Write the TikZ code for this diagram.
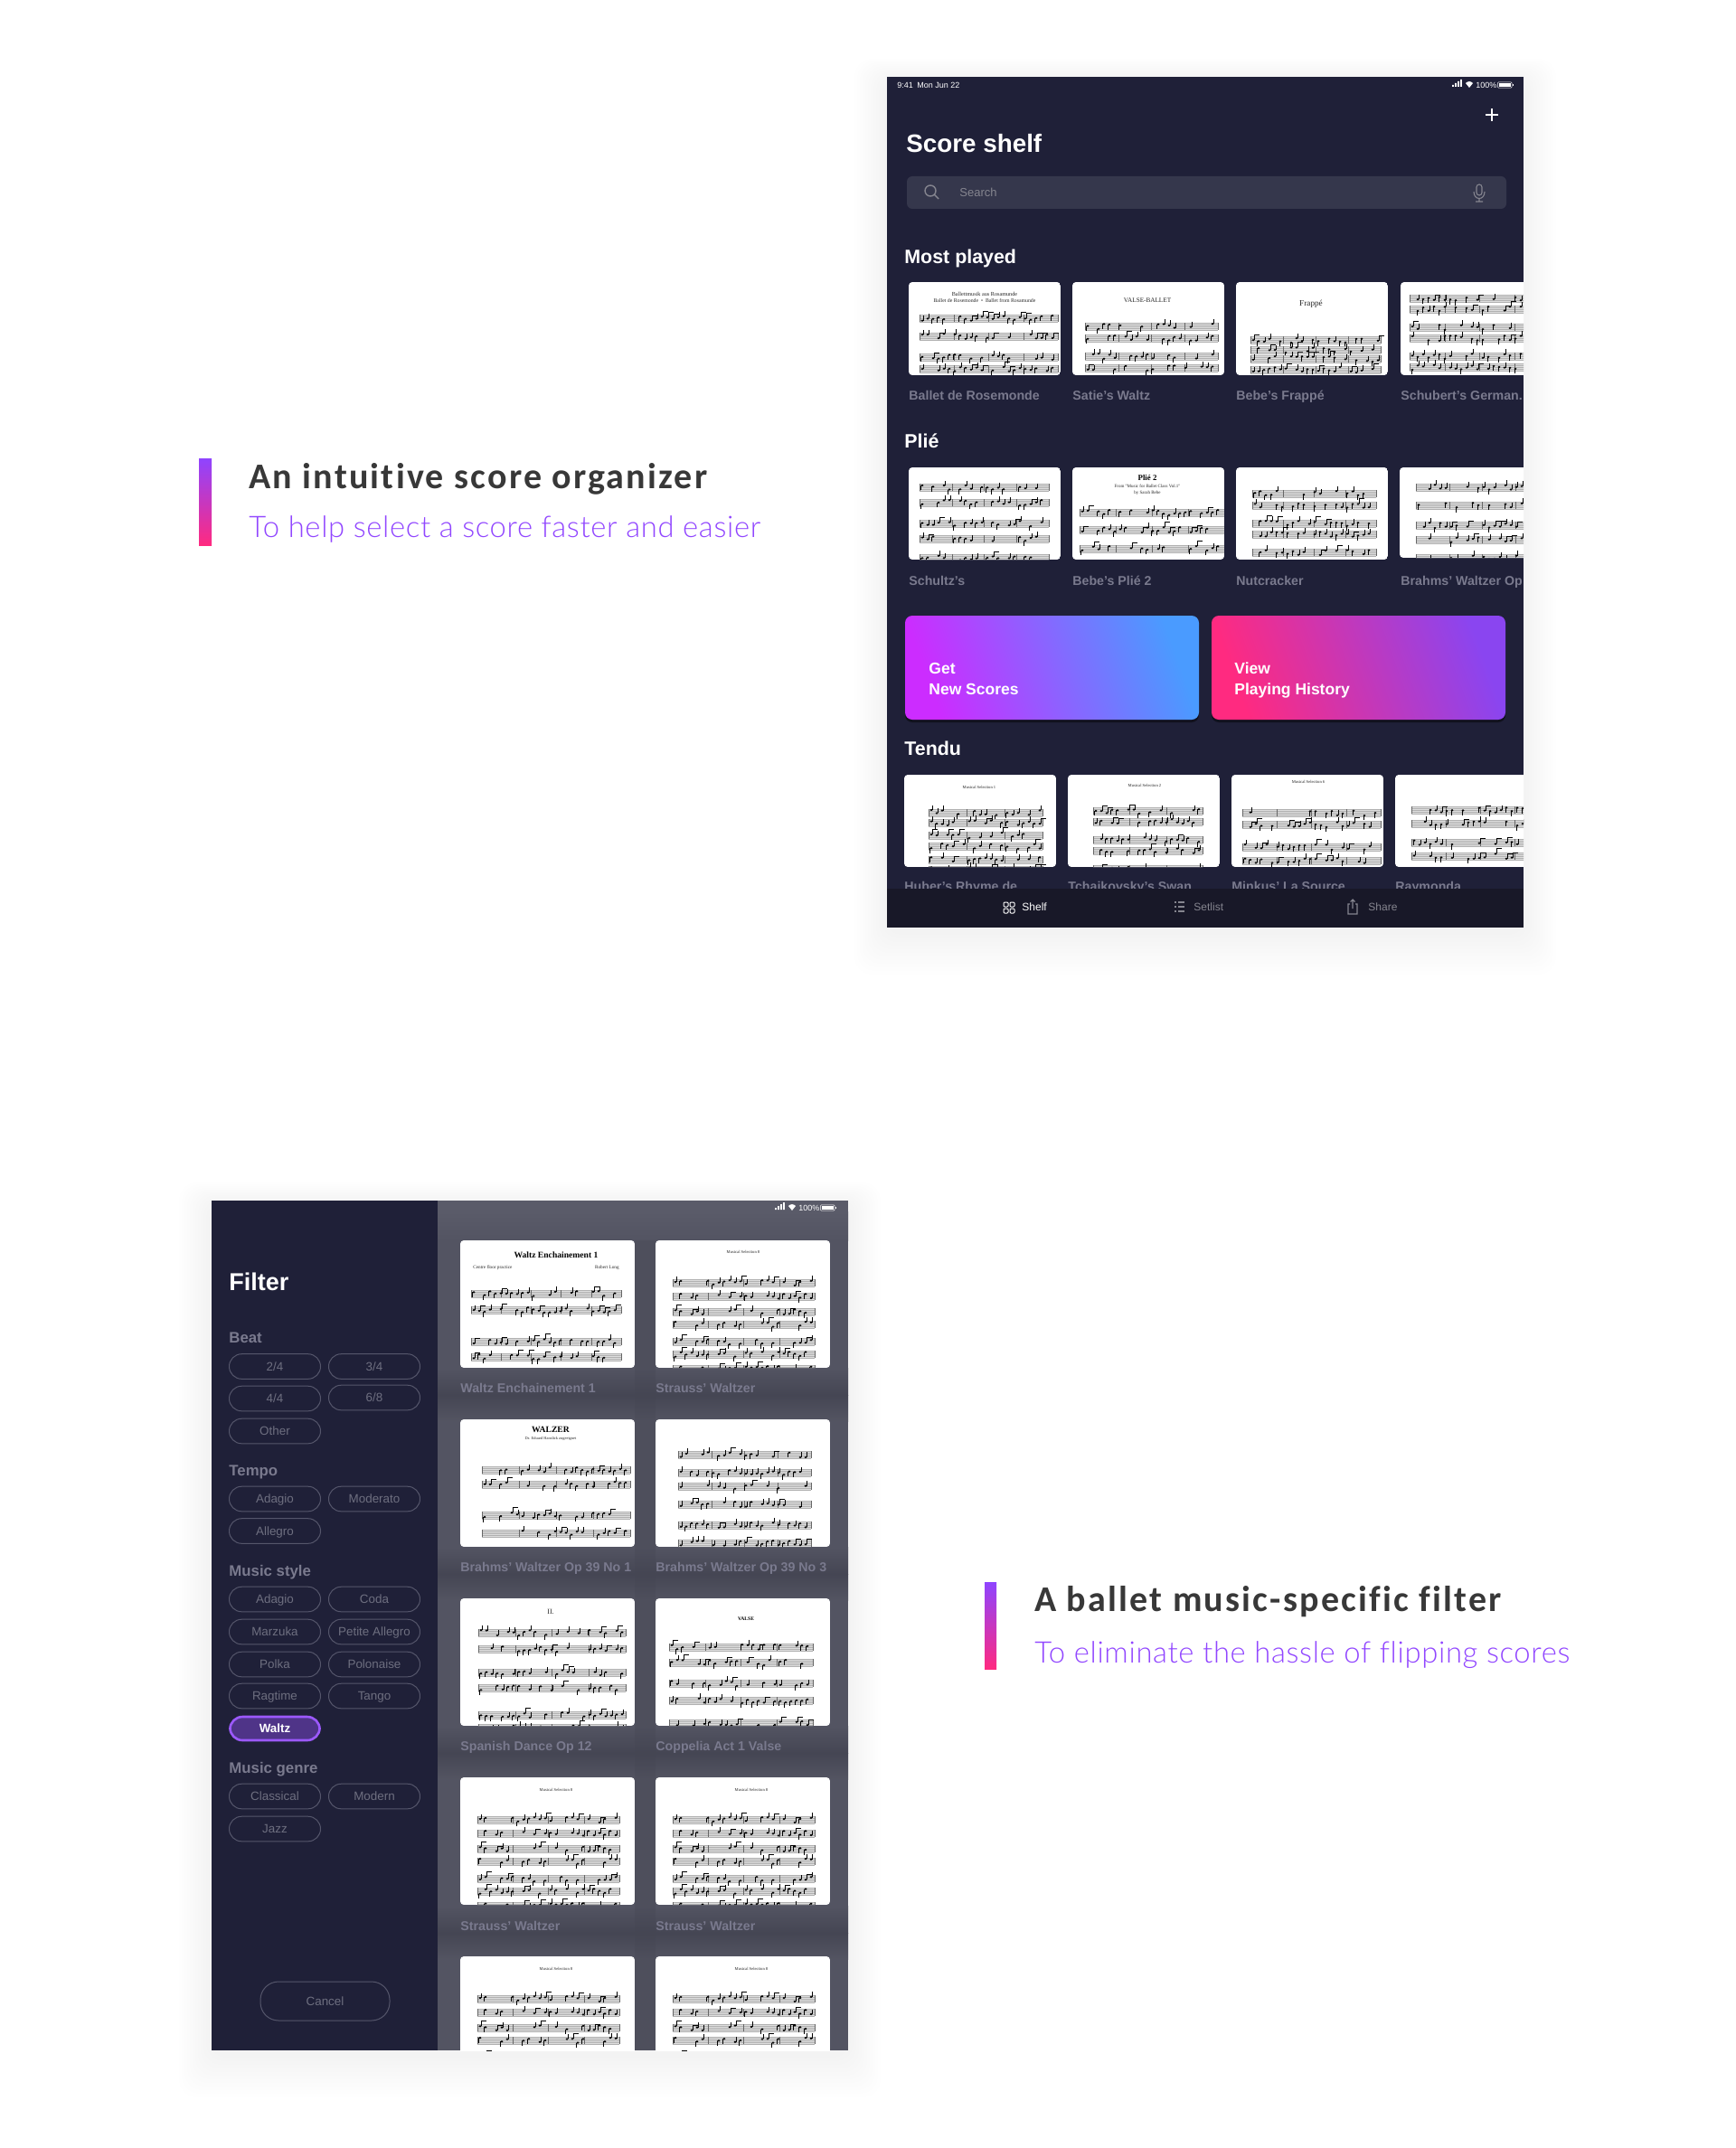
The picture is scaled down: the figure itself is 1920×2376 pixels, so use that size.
\documentclass[tikz,border=0pt]{standalone}
\usepackage{fontspec}
\setmainfont{Liberation Sans}
\newfontfamily\serf{Liberation Serif}
\newfontfamily\carlh[LetterSpace=5.6,Ligatures=NoCommon]{Carlito}
\newfontfamily\carls[LetterSpace=2,Ligatures=NoCommon]{Lato Light}
\definecolor{navy}{HTML}{1F2038}
\definecolor{tabbar}{HTML}{181828}
\definecolor{searchbg}{HTML}{35374C}
\definecolor{greytxt}{HTML}{7A7A8E}
\definecolor{pilltxt}{HTML}{6E6F80}
\definecolor{pillline}{HTML}{55566B}
\definecolor{contentbg}{HTML}{535462}
\definecolor{contentdk}{HTML}{454653}
\definecolor{HTMLlight}{HTML}{5A5B69}
\definecolor{headtxt}{HTML}{383838}
\definecolor{subtxt}{HTML}{9146FF}
\definecolor{staffbg}{HTML}{DEDEDE}
\definecolor{staffln}{HTML}{B0B0B0}
\definecolor{barpur}{HTML}{8F44FF}
\definecolor{barpink}{HTML}{FF2A80}
\definecolor{icongrey}{HTML}{85858F}
\definecolor{HTMLwaltz}{HTML}{4F3488}
\definecolor{HTMLg1}{HTML}{CC2CFF}
\definecolor{HTMLg2}{HTML}{4A9BFF}
\definecolor{HTMLg3}{HTML}{FF2A80}
\definecolor{HTMLg4}{HTML}{8A45F0}
\tikzset{
  x=0.5pt,y=-0.5pt,
  fs/.style={font=\fontsize{#1pt}{#1pt}\selectfont,text height=#1*0.72pt,text depth=0pt,inner sep=0pt},
  lft/.style={anchor=west},
  thumblabel/.style={lft,fs=7.1,text=greytxt,font=\fontsize{7.1pt}{7.1pt}\selectfont\bfseries},
  secthead/.style={lft,fs=10.7,text=white,font=\fontsize{10.7pt}{10.7pt}\selectfont\bfseries},
  sidehead/.style={lft,fs=8.4,text=greytxt,font=\fontsize{8.4pt}{8.4pt}\selectfont\bfseries},
  btntext/.style={lft,fs=8.75,text=white,font=\fontsize{8.75pt}{8.75pt}\selectfont\bfseries},
  pill/.style={draw=pillline,line width=0.5pt,rounded corners=6.9pt,fs=6.7,text=pilltxt,
     minimum width=50.5pt,minimum height=13.8pt},
  pillon/.style={pill,draw=subtxt!90!white,line width=1.3pt,fill=HTMLwaltz,text=white,
     minimum width=49.6pt,minimum height=13pt,
     font=\fontsize{6.7pt}{6.7pt}\selectfont\bfseries},
  tabtext/.style={lft,fs=6,text=icongrey},
  stat/.style={lft,fs=4.5,text=white},
  scoretxt/.style={fs=#1,text=black!85,font=\fontsize{#1pt}{#1pt}\selectfont\serf},
  scorebold/.style={fs=#1,text=black,font=\fontsize{#1pt}{#1pt}\selectfont\serf\bfseries},
  iconline/.style={draw=icongrey,line width=0.55pt},
}
% one staff with notes
\newcommand\onestaff[3]{%
  \pgfmathsetmacro\stA{#1}\pgfmathsetmacro\stB{#2}\pgfmathsetmacro\stY{#3}%
  \fill[staffbg] (\stA,\stY) rectangle (\stB,\stY+8);
  \foreach \li in {0,2,4,6,8}{\draw[staffln,line width=0.1pt] (\stA,\stY+\li) -- (\stB,\stY+\li);}
  \pgfmathtruncatemacro\stN{(\stB-\stA)/6}%
  \pgfmathtruncatemacro\stBars{(\stB-\stA)/33}%
  \foreach \bb in {0,...,\stBars}{%
    \pgfmathsetmacro\bx{\stA+\bb*(\stB-\stA)/max(\stBars,1)}%
    \draw[black!60,line width=0.18pt] (\bx,\stY) -- (\bx,\stY+8);}
  \foreach \kk in {1,...,\stN}{%
    \pgfmathparse{rnd}%
    \ifdim\pgfmathresult pt<0.66pt
      \pgfmathsetmacro\mx{\stA+(\kk-0.5)*6}%
      \pgfmathsetmacro\my{\stY+1+rnd*6}%
      \fill[black] (\mx,\my) ellipse (1.5 and 1.2);
      \pgfmathparse{rnd}%
      \ifdim\pgfmathresult pt<0.5pt
        \draw[black,line width=0.22pt] (\mx+1.3,\my) -- (\mx+1.3,\my-5.5);
        \pgfmathparse{rnd}%
        \ifdim\pgfmathresult pt<0.25pt
          \draw[black,line width=0.5pt] (\mx+1.3,\my-5.5) -- (\mx+7.3,\my-5.5);
        \fi
      \else
        \draw[black,line width=0.22pt] (\mx-1.3,\my) -- (\mx-1.3,\my+5.5);
      \fi
    \fi}
}
% thumbnail: x y w h seed xl xr {staff ys}
\newcommand\thumb[8]{%
  \begin{scope}
    \path[clip,rounded corners=2pt] (#1,#2) rectangle ++(#3,#4);
    \fill[white] (#1,#2) rectangle ++(#3,#4);
    \pgfmathsetseed{#5}
    \foreach \sy in {#8}{\onestaff{#1+#6}{#1+#7}{#2+\sy}}
  \end{scope}}
\newcommand\softshadow[4]{%
  \foreach \ss in {1,...,12}{%
    \fill[black,opacity=0.004,rounded corners=10pt] (#1-\ss*3,#2-\ss*2+4) rectangle (#3+\ss*3,#4+\ss*4+4);}}
\newcommand\statusicons{%
  \fill[white] (0,2) rectangle ++(1.8,-2) (3,2) rectangle ++(1.8,-4) (6,2) rectangle ++(1.8,-6) (9,2) rectangle ++(1.8,-8);
  \fill[white] (19,3) -- (15,-2) .. controls (17,-4.5) and (21,-4.5) .. (23,-2) -- cycle;
  \node[stat] (pct\thepct) at (26,0) {100\%};
  \draw[white,line width=0.25pt,rounded corners=0.5pt] (50.5,-3.2) rectangle (66,3.2);
  \fill[white] (51.5,-2.3) rectangle (65,2.3);
  \fill[white] (66.6,-1.2) rectangle (67.4,1.2);
}
\newcounter{pct}
\begin{document}
\begin{tikzpicture}
\useasboundingbox (0,0) rectangle (1920,2376);
\fill[white] (0,0) rectangle (1920,2376);

% ---- captions
\shade[top color=barpur,bottom color=barpink] (220,507) rectangle (234,603);
\node[lft,fs=20,text=headtxt,font=\fontsize{20pt}{20pt}\selectfont\carlh\bfseries] (cap1) at (275,526) {An intuitive score organizer};
\node[lft,fs=16.4,text=subtxt,font=\fontsize{16.4pt}{16.4pt}\selectfont\carls] (sub1) at (275,583) {To help select a score faster and easier};
\shade[top color=barpur,bottom color=barpink] (1089,1750) rectangle (1102,1846);
\node[lft,fs=20,text=headtxt,font=\fontsize{20pt}{20pt}\selectfont\carlh\bfseries] (cap2) at (1144,1768) {A ballet music-specific filter};
\node[lft,fs=16.4,text=subtxt,font=\fontsize{16.4pt}{16.4pt}\selectfont\carls] (sub2) at (1144,1828) {To eliminate the hassle of flipping scores};

% ---- panel 1
\softshadow{981}{85}{1685}{1026}
\begin{scope}
\clip (981,85) rectangle (1685,1026);
\fill[navy] (981,85) rectangle (1685,1026);
\node[stat] (time) at (992,94) {9:41\enspace Mon Jun 22};
\begin{scope}[shift={(1606,94)}]\stepcounter{pct}\statusicons\end{scope}
\draw[white,line width=1.1pt] (1650,120) -- (1650,134) (1643,127) -- (1657,127);
\node[lft,fs=13.9,text=white,font=\fontsize{13.9pt}{13.9pt}\selectfont\bfseries] (title) at (1002,158) {Score shelf};
\fill[searchbg,rounded corners=3pt] (1003,195) rectangle (1666,231);
\draw[icongrey,line width=0.7pt] (1029,211) circle (6) (1033.5,215.5) -- (1038,220);
\node[lft,fs=6.5,text=icongrey] (search) at (1061,213) {Search};
\draw[icongrey,line width=0.55pt,rounded corners=1.5pt] (1633,204) rectangle (1639,216);
\draw[icongrey,line width=0.55pt] (1630,212) .. controls (1630,222) and (1642,222) .. (1642,212) (1636,219) -- (1636,223) (1632,223) -- (1640,223);

\node[secthead] (h1) at (1000,284) {Most played};
\thumb{1005}{312}{168}{103}{11}{12}{165}{36,56,79,92}
\thumb{1186}{312}{168}{103}{12}{14}{161}{45,58,78,91}
\thumb{1367}{312}{168}{103}{13}{16}{160}{60,71,81,93}
\thumb{1549}{312}{168}{103}{14}{10}{165}{14,26,46,58,78,90,110}
\node[scoretxt=3.1] (t11) at (1089,325) {Ballettmusik aus Rosamunde};
\node[scoretxt=2.9] (t11b) at (1089,332) {Ballet de Rosemonde\enspace\textbullet\enspace Ballet from Rosamunde};
\node[scoretxt=3.6] (t12) at (1269,332) {VALSE-BALLET};
\node[scoretxt=4.6] (t13) at (1450,335) {Frappé};
\node[thumblabel] (l11) at (1005,437) {Ballet de Rosemonde};
\node[thumblabel] (l12) at (1186,437) {Satie’s Waltz};
\node[thumblabel] (l13) at (1367,437) {Bebe’s Frappé};
\node[thumblabel] (l14) at (1549,437) {Schubert’s German.};

\node[secthead] (h2) at (1000,488) {Plié};
\thumb{1005}{517}{168}{102}{21}{12}{155}{18,35,58,75,96}
\thumb{1186}{517}{168}{102}{22}{8}{168}{46,65,86}
\thumb{1367}{517}{168}{102}{23}{18}{155}{25,38,58,70,90}
\thumb{1548}{517}{168}{100}{24}{18}{165}{18,38,60,76,96}
\node[scorebold=4.4] (t22) at (1269,528) {Plié 2};
\node[scoretxt=2.5] (t22b) at (1269,538) {From "Music for Ballet Class Vol.1"};
\node[scoretxt=2.5] (t22c) at (1269,545) {by Sarah Bebe};
\node[thumblabel] (l21) at (1005,642) {Schultz’s};
\node[thumblabel] (l22) at (1186,642) {Bebe’s Plié 2};
\node[thumblabel] (l23) at (1367,642) {Nutcracker};
\node[thumblabel] (l24) at (1549,642) {Brahms’ Waltzer Op};

% buttons
\fill[black,opacity=0.45,rounded corners=4pt] (1001,684) rectangle (1326,799);
\fill[black,opacity=0.45,rounded corners=4pt] (1340,684) rectangle (1665,799);
\shade[rounded corners=4pt,left color=HTMLg1,right color=HTMLg2,shading angle=110] (1001,681) rectangle (1326,796);
\shade[rounded corners=4pt,left color=HTMLg3,right color=HTMLg4,shading angle=110] (1340,681) rectangle (1665,796);
\node[btntext] (b1a) at (1027,739) {Get};
\node[btntext] (b1b) at (1027,762) {New Scores};
\node[btntext] (b2a) at (1365,739) {View};
\node[btntext] (b2b) at (1365,762) {Playing History};

\node[secthead] (h3) at (1000,828) {Tendu};
\thumb{1000}{857}{168}{102}{31}{27}{153}{38,49,63,75,90,101}
\thumb{1181}{857}{168}{102}{32}{28}{149}{36,48,68,80,100}
\thumb{1362}{857}{168}{102}{33}{12}{165}{38,51,76,91}
\thumb{1543}{857}{168}{102}{34}{18}{170}{35,50,71,86}
\node[scoretxt=2.3] (t31) at (1083,871) {Musical Selection 1};
\node[scoretxt=2.3] (t32) at (1266,869) {Musical Selection 2};
\node[scoretxt=2.3] (t33) at (1447,865) {Musical Selection 6};
\node[thumblabel] (l31) at (1000,980) {Huber’s Rhyme de};
\node[thumblabel] (l32) at (1181,980) {Tchaikovsky’s Swan};
\node[thumblabel] (l33) at (1362,980) {Minkus’ La Source};
\node[thumblabel] (l34) at (1543,980) {Raymonda};

% tab bar
\fill[tabbar] (981,983) rectangle (1685,1026);
\foreach \ix/\iy in {1110/998,1117/998,1110/1005,1117/1005}
  \draw[white,line width=0.5pt,rounded corners=0.5pt] (\ix,\iy) rectangle ++(5,5);
\node[tabtext,text=white] (tab1) at (1130,1003) {Shelf};
\foreach \iy in {998,1003,1008}{\fill[icongrey] (1299,\iy-0.7) rectangle ++(1.6,1.4);\draw[iconline] (1303,\iy) -- (1310,\iy);}
\node[tabtext] (tab2) at (1320,1003) {Setlist};
\draw[iconline] (1493,1000) -- (1491,1000) -- (1491,1011) -- (1501,1011) -- (1501,1000) -- (1499,1000) (1496,1005) -- (1496,995) (1493.5,997.5) -- (1496,995) -- (1498.5,997.5);
\node[tabtext] (tab3) at (1513,1003) {Share};
\end{scope}

% ---- panel 2
\softshadow{234}{1328}{938}{2268}
\begin{scope}
\clip (234,1328) rectangle (938,2268);
\fill[contentbg] (484,1328) rectangle (938,2268);
\fill[HTMLlight] (484,1328) rectangle (938,1340);
\shade[top color=HTMLlight,bottom color=contentbg] (484,1340) rectangle (938,1372);
\foreach \by in {1535,1733,1931,2130}{
  \shade[top color=contentbg,bottom color=contentdk] (484,\by-22) rectangle (938,\by+8);
  \shade[top color=contentdk,bottom color=contentbg] (484,\by+8) rectangle (938,\by+37);
}
\fill[contentdk,opacity=0.35] (702,1372) rectangle (725,2268);
\thumb{509}{1372}{193}{141}{41}{12}{178}{55,73,108,125}
\thumb{725}{1372}{193}{141}{42}{19}{176}{43,58,75,89,108,122,138}
\node[scorebold=4.8] (p11) at (615,1388) {Waltz Enchainement 1};
\node[scoretxt=2.6,lft] (p11b) at (523,1402) {Centre floor practice};
\node[scoretxt=2.6,anchor=east] (p11c) at (685,1402) {Robert Long};
\node[scoretxt=2.3] (p12) at (822,1385) {Musical Selection 8};
\node[thumblabel] (q11) at (509,1535) {Waltz Enchainement 1};
\node[thumblabel] (q12) at (725,1535) {Strauss’ Waltzer};

\thumb{509}{1570}{193}{141}{43}{24}{188}{52,68,102,122}
\thumb{725}{1570}{193}{141}{44}{25}{172}{35,55,70,90,113,133}
\node[scorebold=4.8] (p21) at (609,1581) {WALZER};
\node[scoretxt=2.2] (p21b) at (609,1591) {Dr. Eduard Hanslick zugeeignet};
\node[thumblabel] (q21) at (509,1733) {Brahms’ Waltzer Op 39 No 1};
\node[thumblabel] (q22) at (725,1733) {Brahms’ Waltzer Op 39 No 3};

\thumb{509}{1768}{193}{141}{45}{20}{183}{34,52,78,95,125,139}
\thumb{725}{1768}{193}{141}{46}{15}{174}{50,67,90,109,134}
\node[scoretxt=4] (p31) at (609,1783) {II.};
\node[scorebold=2.8] (p32) at (825,1790) {VALSE};
\node[thumblabel] (q31) at (509,1931) {Spanish Dance Op 12};
\node[thumblabel] (q32) at (725,1931) {Coppelia Act 1 Valse};

\foreach \tx/\tm in {509/615,725/831}{
  \thumb{\tx}{1966}{193}{141}{42}{19}{176}{43,58,75,89,108,122,138}
  \thumb{\tx}{2164}{193}{141}{42}{19}{176}{43,58,75,89,108,122,138}
  \node[scoretxt=2.3] at (\tm,1980) {Musical Selection 8};
  \node[scoretxt=2.3] at (\tm,2178) {Musical Selection 8};
  \node[thumblabel] at (\tx,2130) {Strauss’ Waltzer};
}
\begin{scope}[shift={(857,1336)}]\stepcounter{pct}\statusicons\end{scope}

% sidebar
\fill[navy] (234,1328) rectangle (484,2268);
\node[lft,fs=13.5,text=white,font=\fontsize{13.5pt}{13.5pt}\selectfont\bfseries] (filter) at (253,1418) {Filter};
\node[sidehead] (beat) at (253,1479) {Beat};
\node[pill] (b24) at (304,1511.5) {2/4};
\node[pill] (b34) at (414,1511.5) {3/4};
\node[pill] (b44) at (304,1547) {4/4};
\node[pill] (b68) at (414,1546) {6/8};
\node[pill] (both) at (304,1583) {Other};
\node[sidehead] (tempo) at (253,1626) {Tempo};
\node[pill] (tad) at (304,1658) {Adagio};
\node[pill] (tmo) at (414,1658) {Moderato};
\node[pill] (tal) at (304,1693.5) {Allegro};
\node[sidehead] (style) at (253,1737) {Music style};
\node[pill] (s1) at (304,1769) {Adagio};
\node[pill] (s2) at (414,1769) {Coda};
\node[pill] (s3) at (304,1805) {Marzuka};
\node[pill] (s4) at (414,1805) {Petite Allegro};
\node[pill] (s5) at (304,1841) {Polka};
\node[pill] (s6) at (414,1841) {Polonaise};
\node[pill] (s7) at (304,1876) {Ragtime};
\node[pill] (s8) at (414,1876) {Tango};
\node[pillon] (s9) at (304,1912) {Waltz};
\node[sidehead] (genre) at (253,1955) {Music genre};
\node[pill] (g1) at (304,1987) {Classical};
\node[pill] (g2) at (414,1987) {Modern};
\node[pill] (g3) at (304,2023) {Jazz};
\node[pill,minimum width=71.5pt,minimum height=21.5pt,rounded corners=10pt] (cancel) at (359.5,2213.5) {Cancel};
\end{scope}
\end{tikzpicture}
\end{document}
